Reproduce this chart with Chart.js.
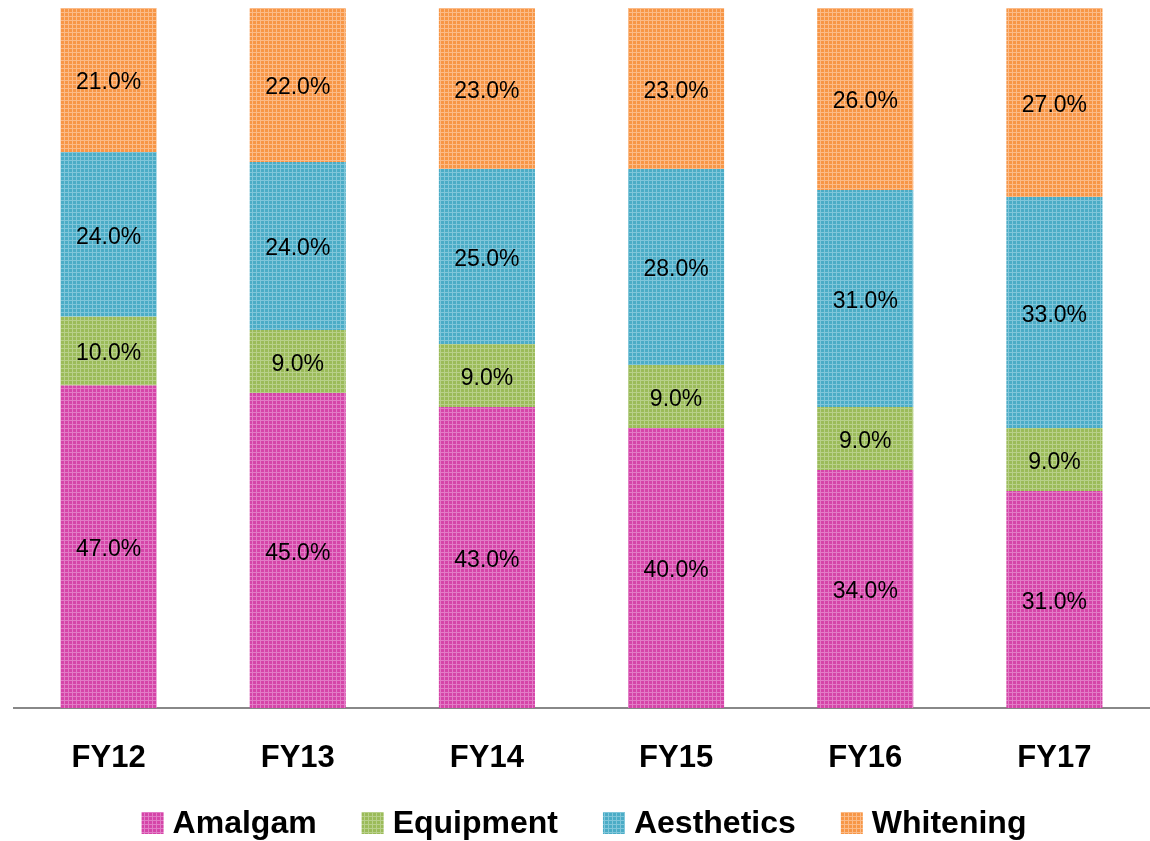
<!DOCTYPE html>
<html>
<head>
<meta charset="utf-8">
<script src="https://cdn.jsdelivr.net/npm/chart.js@4/dist/chart.umd.min.js"></script>
<style>
  html, body { margin: 0; padding: 0; background: #fff; }
  #wrap { width: 1150px; height: 841px; }
</style>
</head>
<body>
<div id="wrap"><canvas id="mixChart"></canvas></div>
<script>
        // Chart data (share of revenue, %)
        const years = ['FY12', 'FY13', 'FY14', 'FY15', 'FY16', 'FY17'];
        const amalgam = [47, 45, 43, 40, 34, 31];
        const equipment = [10, 9, 9, 9, 9, 9];
        const aesthetics = [24, 24, 25, 28, 31, 33];
        const whitening = [21, 22, 23, 23, 26, 27];

        // bars are drawn as 100% stacks
        const totals = years.map((_, i) => amalgam[i] + equipment[i] + aesthetics[i] + whitening[i]);
        const share = arr => arr.map((v, i) => v / totals[i] * 100);

        const FONT = '"Liberation Sans", Arial, sans-serif';

        // small dotted texture like the office fill
        function texture(base, light) {
            const c = document.createElement('canvas');
            c.width = 4; c.height = 4;
            const g = c.getContext('2d');
            g.fillStyle = base;
            g.fillRect(0, 0, 4, 4);
            g.fillStyle = light;
            g.fillRect(0, 0, 4, 1);
            g.fillRect(0, 0, 1, 4);
            return g.createPattern(c, 'repeat');
        }

        const valueLabels = {
            id: 'valueLabels',
            afterDatasetsDraw(chart) {
                const ctx = chart.ctx;
                ctx.save();
                ctx.font = '23px ' + FONT;
                ctx.fillStyle = '#000';
                ctx.textAlign = 'center';
                ctx.textBaseline = 'middle';
                chart.data.datasets.forEach((ds, di) => {
                    const meta = chart.getDatasetMeta(di);
                    meta.data.forEach((bar, i) => {
                        const y = (bar.y + bar.base) / 2 + 3;
                        ctx.fillText(ds.raw[i].toFixed(1) + '%', bar.x, y);
                    });
                });
                ctx.restore();
            }
        };

        // legend row under the axis labels
        const bottomLegend = {
            id: 'bottomLegend',
            afterDraw(chart) {
                const ctx = chart.ctx;
                const box = 22, gapText = 9, gapItem = 45;
                ctx.save();
                ctx.font = 'bold 32px ' + FONT;
                ctx.textBaseline = 'middle';
                const items = chart.data.datasets.map(ds => ({
                    ds, w: ctx.measureText(ds.label).width
                }));
                const total = items.reduce((s, it) => s + box + gapText + it.w, 0) + gapItem * (items.length - 1);
                let x = chart.width / 2 + 9 - total / 2;
                const y = chart.height - 18;
                items.forEach(it => {
                    ctx.fillStyle = it.ds.backgroundColor;
                    ctx.fillRect(x, y - box / 2, box, box);
                    ctx.fillStyle = '#000';
                    ctx.fillText(it.ds.label, x + box + gapText, y + 1);
                    x += box + gapText + it.w + gapItem;
                });
                ctx.restore();
            }
        };

        const ctx = document.getElementById('mixChart').getContext('2d');
        new Chart(ctx, {
            type: 'bar',
            data: {
                labels: years,
                datasets: [
                    { label: 'Amalgam', raw: amalgam, data: share(amalgam), backgroundColor: texture('#d545a8', '#e27cc6') },
                    { label: 'Equipment', raw: equipment, data: share(equipment), backgroundColor: texture('#9bbb59', '#b8d08a') },
                    { label: 'Aesthetics', raw: aesthetics, data: share(aesthetics), backgroundColor: texture('#4bacc6', '#80c6da') },
                    { label: 'Whitening', raw: whitening, data: share(whitening), backgroundColor: texture('#f79646', '#fbbb88') }
                ]
            },
            options: {
                responsive: true,
                maintainAspectRatio: false,
                animation: false,
                categoryPercentage: 1,
                barPercentage: 0.508,
                layout: { padding: { left: 14, right: 1, top: 8, bottom: 53 } },
                plugins: {
                    legend: { display: false },
                    tooltip: { enabled: false }
                },
                scales: {
                    x: {
                        stacked: true,
                        grid: { display: false },
                        border: { display: true, color: '#888', width: 2 },
                        ticks: {
                            color: '#000',
                            padding: 24,
                            font: { family: FONT, size: 31, weight: 'bold' }
                        },
                        afterFit(scale) { scale.height = 80; }
                    },
                    y: {
                        stacked: true,
                        display: false,
                        min: 0,
                        max: 100
                    }
                }
            },
            plugins: [valueLabels, bottomLegend]
        });
</script>
</body>
</html>
